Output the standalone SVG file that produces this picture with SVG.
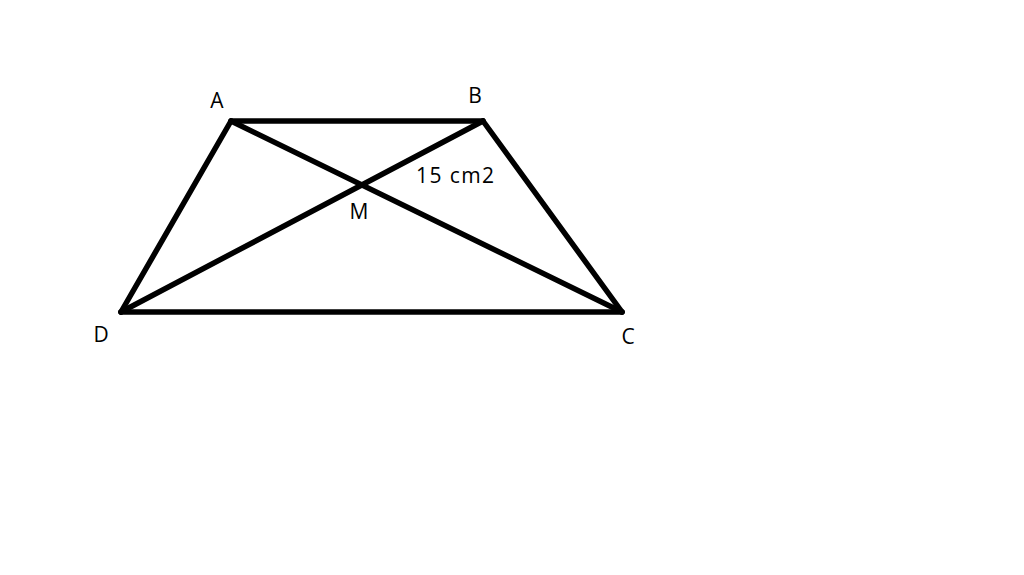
<svg xmlns="http://www.w3.org/2000/svg" width="1024" height="575" viewBox="0 0 1024 575">
<style>
.e{stroke:#000;stroke-width:5.5;stroke-linecap:round;fill:none}
.t{font-family:"Open Sans","Liberation Sans",sans-serif;font-size:21px;fill:#000}
</style>
<rect width="1024" height="575" fill="#fff"/>
<g id="connectors">
<line class="e" x1="231" y1="121" x2="483" y2="121"/>
<line class="e" x1="483" y1="121" x2="622" y2="312"/>
<line class="e" x1="622" y1="312" x2="121" y2="312"/>
<line class="e" x1="121" y1="312" x2="231" y2="121"/>
<line class="e" x1="231" y1="121" x2="622" y2="312"/>
<line class="e" x1="483" y1="121" x2="121" y2="312"/>
</g>
<g id="A"><text class="t" x="217" y="108" text-anchor="middle">A</text></g>
<g id="B"><text class="t" x="475" y="103" text-anchor="middle">B</text></g>
<g id="C"><text class="t" x="628" y="344" text-anchor="middle">C</text></g>
<g id="D"><text class="t" x="101" y="342" text-anchor="middle">D</text></g>
<g id="M"><text class="t" x="359" y="219" text-anchor="middle">M</text></g>
<g id="area"><text class="t" x="416" y="183" textLength="78" lengthAdjust="spacing">15 cm2</text></g>
</svg>
